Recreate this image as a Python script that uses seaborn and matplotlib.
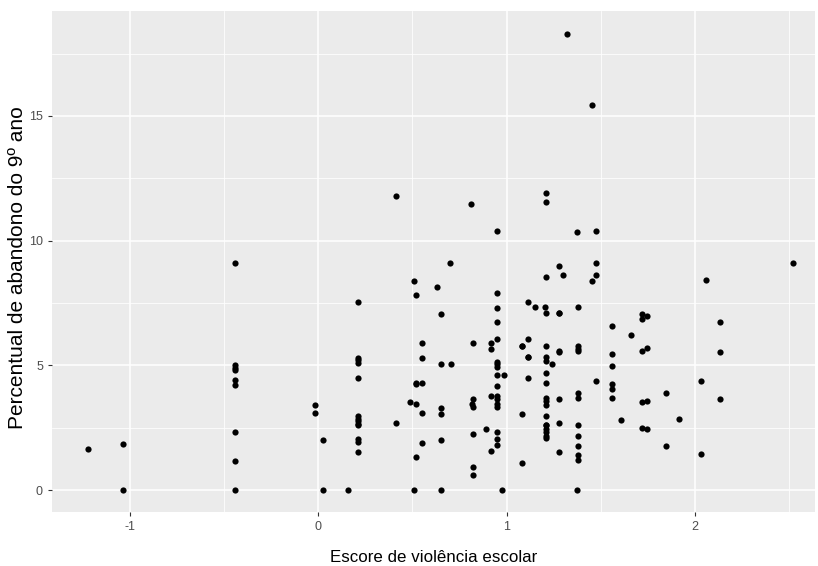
import numpy as np
import pandas as pd
import seaborn as sns
from matplotlib import pyplot as plt
from matplotlib.ticker import MultipleLocator

# school violence score (x) and 9th grade dropout percentage (y)
escore = [
    -1.225, -1.036, -1.036,
    -0.441, -0.441, -0.441, -0.441, -0.441, -0.441, -0.441, -0.441, -0.441,
    -0.02, -0.02, 0.027, 0.027,
    0.16,
    0.209, 0.209, 0.209, 0.209, 0.209, 0.209, 0.209, 0.209, 0.209, 0.209, 0.209, 0.209, 0.209,
    0.413, 0.413,
    0.488, 0.507, 0.507,
    0.52, 0.52, 0.52, 0.52, 0.52,
    0.551, 0.551, 0.551, 0.551, 0.551,
    0.628,
    0.652, 0.652, 0.652, 0.652, 0.652, 0.652,
    0.697, 0.704,
    0.81,
    0.816, 0.824, 0.824, 0.824, 0.824, 0.824, 0.824,
    0.892,
    0.918, 0.918, 0.918, 0.918,
    0.95, 0.95, 0.95, 0.95, 0.95, 0.95, 0.95, 0.95, 0.95, 0.95, 0.95, 0.95, 0.95, 0.95, 0.95, 0.95, 0.95,
    0.975, 0.988,
    1.083, 1.083, 1.083, 1.083,
    1.115, 1.115, 1.115, 1.115, 1.115,
    1.153,
    1.204, 1.209, 1.209, 1.209, 1.209, 1.209, 1.209, 1.209, 1.209, 1.209, 1.209, 1.209,
    1.209, 1.209, 1.209, 1.209, 1.209, 1.209, 1.209, 1.209,
    1.241,
    1.28, 1.28, 1.28, 1.28, 1.28, 1.28, 1.28, 1.28,
    1.298,
    1.323,
    1.374, 1.374,
    1.381, 1.381, 1.381, 1.381, 1.381, 1.381, 1.381, 1.381, 1.381, 1.381, 1.381,
    1.456, 1.456,
    1.475, 1.475, 1.475, 1.475,
    1.559, 1.559, 1.559, 1.559, 1.559, 1.559,
    1.608, 1.66,
    1.722, 1.722, 1.722, 1.722, 1.722,
    1.748, 1.748, 1.748, 1.748,
    1.849, 1.849, 1.918,
    2.034, 2.034, 2.059,
    2.135, 2.135, 2.135,
    2.52,
]
abandono = [
    1.64, 1.83, 0.0,
    9.11, 5.0, 4.9, 4.8, 4.4, 4.2, 2.31, 1.16, 0.0,
    3.41, 3.1, 2.0, 0.0,
    0.0,
    7.52, 5.3, 5.2, 5.1, 2.95, 2.85, 2.75, 2.65, 2.6, 2.03, 1.94, 1.51, 4.49,
    11.78, 2.67,
    3.53, 8.38, 0.0,
    7.83, 4.3, 4.24, 3.46, 1.34,
    5.89, 5.28, 4.3, 3.1, 1.88,
    8.14,
    7.04, 5.04, 3.29, 3.03, 2.0, 0.0,
    9.11, 5.04,
    11.48,
    3.46, 5.89, 3.65, 3.34, 2.24, 0.91, 0.6,
    2.43,
    5.89, 5.64, 3.77, 1.58,
    10.38, 7.9, 7.28, 6.73, 6.07, 5.14, 5.04, 4.92, 4.18, 3.77, 3.65, 3.46, 3.34, 2.31, 2.06, 1.82, 4.61,
    0.0, 4.61,
    5.77, 3.03, 1.09, 5.77,
    7.54, 6.07, 5.34, 4.49, 5.34,
    7.35,
    7.35, 11.9, 11.53, 8.56, 7.09, 5.77, 5.34, 5.16, 4.68, 4.3, 3.7, 3.58,
    3.41, 2.98, 2.6, 2.43, 2.31, 2.18, 2.07, 2.6,
    5.04,
    8.98, 7.09, 5.58, 5.52, 3.65, 2.67, 1.51, 7.09,
    8.62,
    18.28,
    10.33, 0.0,
    7.35, 5.77, 5.65, 5.58, 3.89, 3.7, 2.6, 2.18, 1.76, 1.4, 1.21,
    15.42, 8.38,
    10.38, 9.11, 8.62, 4.37,
    6.56, 5.46, 4.97, 4.25, 4.06, 3.7,
    2.79, 6.2,
    7.04, 6.85, 5.58, 3.53, 2.48,
    6.99, 5.7, 3.58, 2.43,
    3.89, 1.76, 2.86,
    4.37, 1.46, 8.44,
    6.73, 5.53, 3.65,
    9.11,
]

df = pd.DataFrame({"escore": escore, "abandono": abandono})

plt.rcParams["font.family"] = ["Liberation Sans", "DejaVu Sans"]
plt.rcParams["axes.unicode_minus"] = False

fig = plt.figure(figsize=(8.18, 5.66), dpi=100)
ax = fig.add_axes([0.0636, 0.0954, 0.933, 0.885])
ax.set_facecolor("#EBEBEB")

sns.scatterplot(data=df, x="escore", y="abandono", ax=ax, color="black",
                s=20, linewidth=0, zorder=3)

ax.set_xlim(-1.415, 2.64)
ax.set_ylim(-0.88, 19.2)
ax.xaxis.set_major_locator(MultipleLocator(1))
ax.xaxis.set_minor_locator(MultipleLocator(0.5))
ax.yaxis.set_major_locator(MultipleLocator(5))
ax.yaxis.set_minor_locator(MultipleLocator(2.5))
ax.grid(which="major", color="white", linewidth=1.1)
ax.grid(which="minor", color="white", linewidth=0.55)
ax.set_axisbelow(True)
for sp in ax.spines.values():
    sp.set_visible(False)
ax.tick_params(which="major", length=3, color="#333333", labelcolor="#4D4D4D", labelsize=9)
ax.tick_params(which="minor", length=0)

ax.set_xlabel("Escore de violência escolar", fontsize=12.2, color="black")
ax.set_ylabel("Percentual de abandono do 9º ano", fontsize=15, color="black")
ax.xaxis.set_label_coords(0.5, -0.076)
ax.yaxis.set_label_coords(-0.0334, 0.488)

fig.savefig("out.png", dpi=100)
